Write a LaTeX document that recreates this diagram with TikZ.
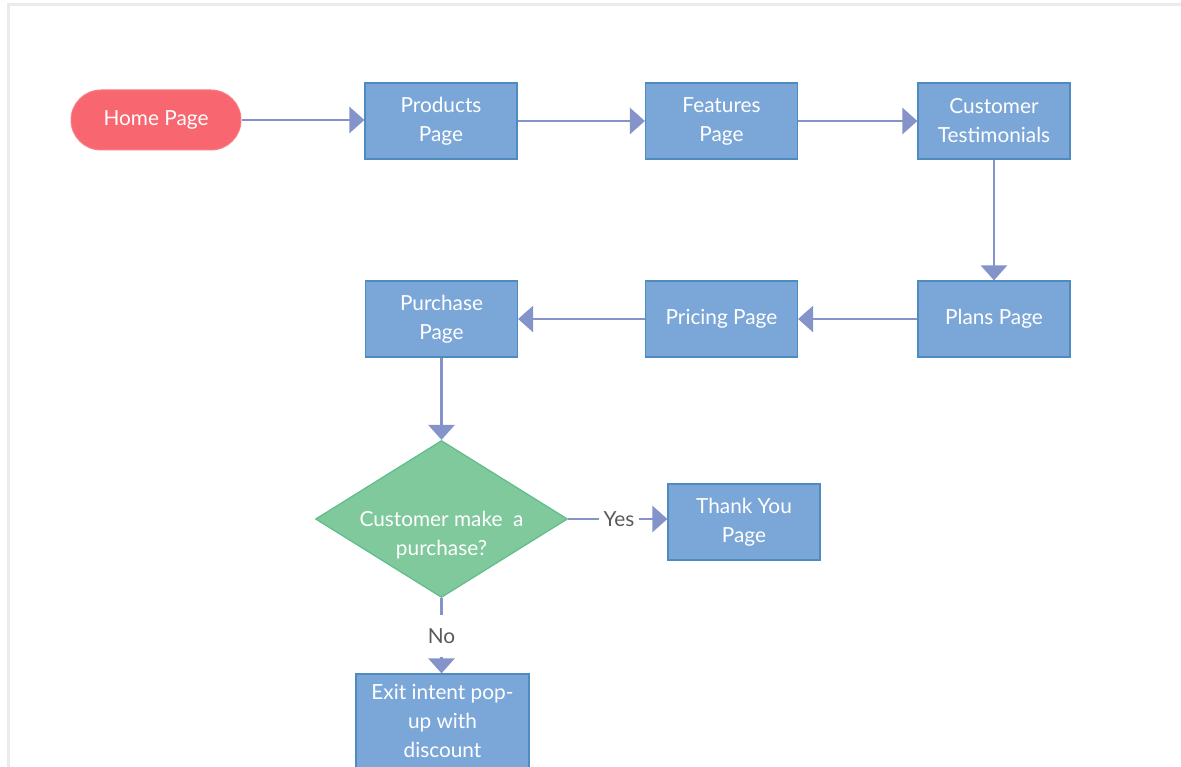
\documentclass[tikz,border=0pt]{standalone}
\usepackage{fontspec}
\setmainfont{Lato}
\usetikzlibrary{shapes.geometric,arrows.meta}
\definecolor{boxfill}{HTML}{7BA7D8}
\definecolor{boxline}{HTML}{4E8BBF}
\definecolor{homefill}{HTML}{F8676F}
\definecolor{decfill}{HTML}{80C99C}
\definecolor{decline}{HTML}{5FBD89}
\definecolor{arrowc}{HTML}{8494CB}
\definecolor{labc}{HTML}{595959}
\definecolor{framec}{HTML}{EBEBEB}
\begin{document}
\begin{tikzpicture}[x=1pt,y=-1pt,
  txt/.style={font=\fontsize{20.8pt}{29pt}\selectfont},
  pagebox/.style={txt,rectangle,fill=boxfill,draw=boxline,line width=1.2pt,
    minimum width=152pt,minimum height=76pt,text=white,align=center,inner sep=2pt},
  startbox/.style={txt,rectangle,rounded corners=30pt,fill=homefill,draw=homefill!85!white,
    line width=1pt,minimum width=170pt,minimum height=60pt,text=white},
  decision/.style={diamond,fill=decfill,draw=decline,line width=1.2pt,
    minimum width=252pt,minimum height=157pt,inner sep=0pt},
  dectext/.style={txt,text=white,align=center},
  lab/.style={txt,text=labc,text height=15pt,text depth=0pt},
  flow/.style={draw=arrowc,line width=2.8pt,-{Triangle[width=26pt,length=15pt]}},
  plain/.style={draw=arrowc,line width=2.8pt}
]
\useasboundingbox (0,0) rectangle (1181,767);
\clip (0,0) rectangle (1181,767);
\draw[framec,line width=3pt] (8,767) -- (8,5) -- (1181,5);

\node[startbox] (home) at (156,120) {Home Page};
\node[pagebox] (prod) at (441,121) {Products\\Page};
\node[pagebox] (feat) at (721.5,121) {Features\\Page};
\node[pagebox] (test) at (994,121) {Customer\\Testimonials};
\node[pagebox] (plans) at (994,319) {Plans Page};
\node[pagebox] (pric) at (721.5,319) {Pricing Page};
\node[pagebox] (purch) at (441.5,319) {Purchase\\Page};
\node[decision] (dec) at (441.5,519) {};
\node[dectext] (dect) at (441.5,535) {Customer make\ \ a\\purchase?};
\node[pagebox] (thank) at (744,522) {Thank You\\Page};
\node[pagebox,minimum width=173pt,minimum height=94pt] (exit) at (442.5,721) {Exit intent pop-\\up with\\discount};
\node[lab,inner xsep=4pt,inner ysep=4pt] (yes) at (619,519) {Yes};
\node[lab,inner xsep=4pt,inner ysep=13pt] (no) at (441.5,636) {No};

\draw[flow] (home.east) -- (home.east -| prod.west);
\draw[flow] (prod) -- (feat);
\draw[flow] (feat) -- (test);
\draw[flow] (test) -- (plans);
\draw[flow] (plans) -- (pric);
\draw[flow] (pric) -- (purch);
\draw[flow] (purch) -- (dec);
\draw[plain] (dec.east) -- (yes.west);
\draw[flow] (yes.east) -- (yes.east -| thank.west);
\draw[plain] (dec.south) -- (no.north);
\draw[flow] (no.south) -- (no.south |- exit.north);
\end{tikzpicture}
\end{document}
